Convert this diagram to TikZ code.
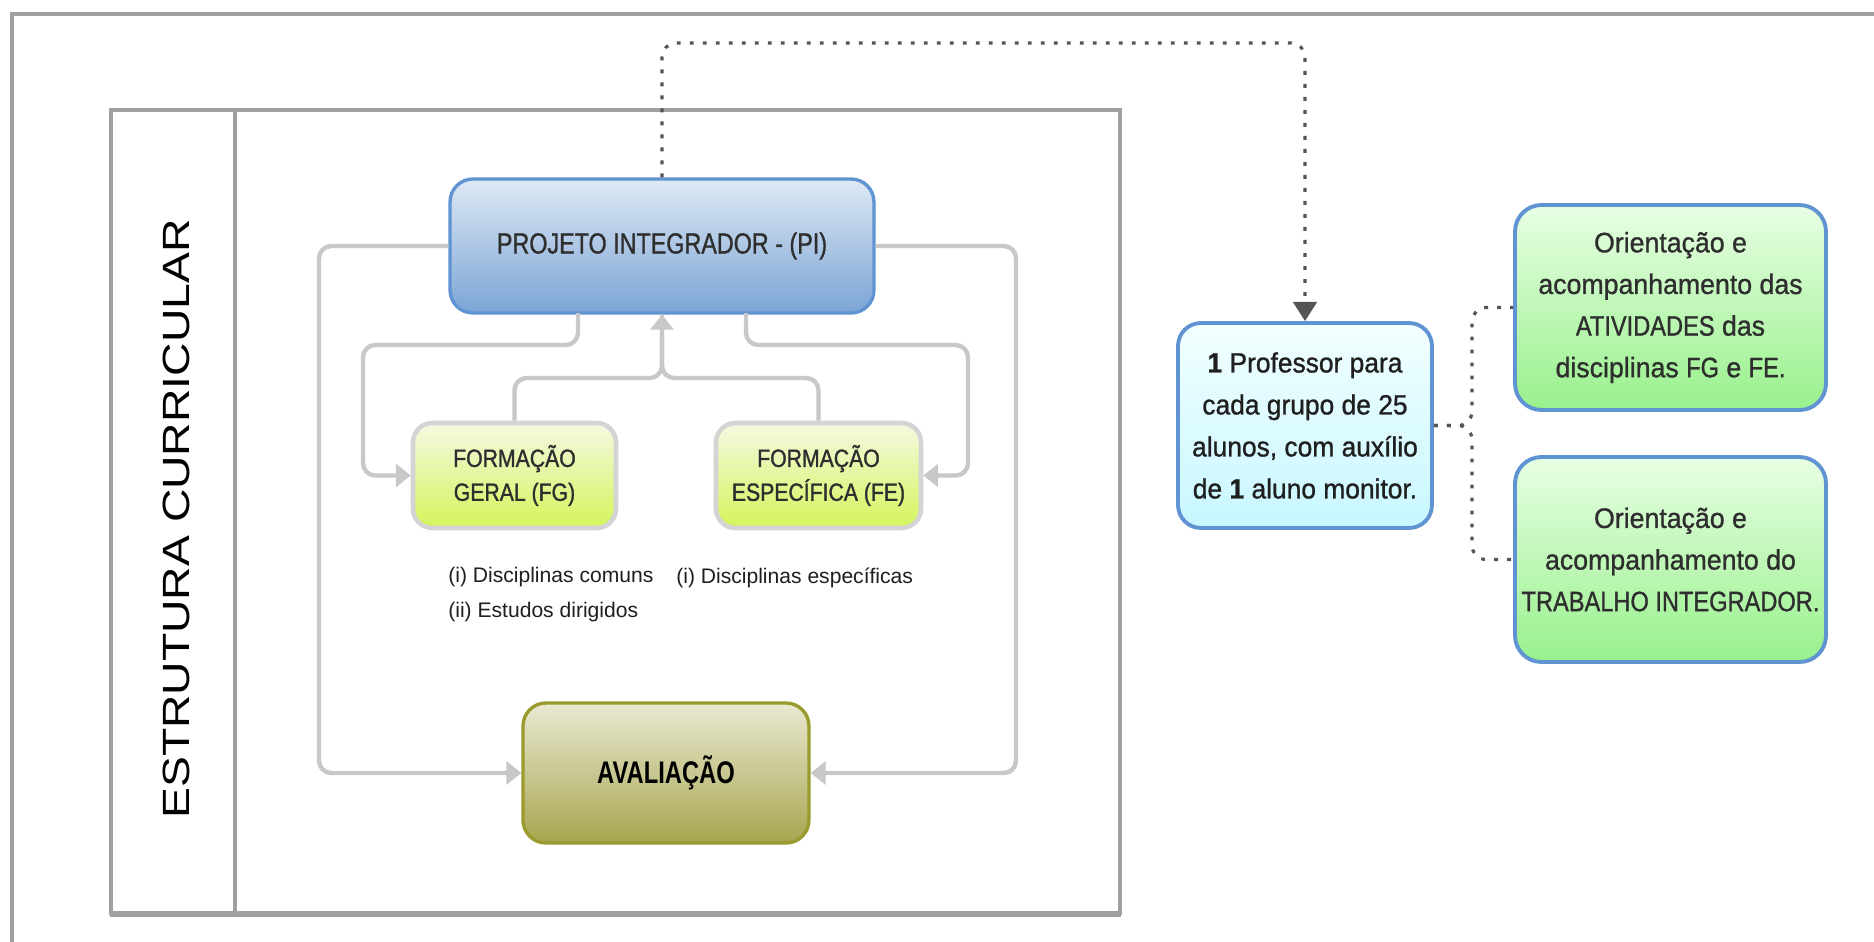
\documentclass[tikz,border=0pt]{standalone}
\usepackage{fontspec}
\setmainfont{Liberation Sans}
\newfontfamily\pifont[FakeStretch=0.8,FakeBold=1]{Liberation Sans}
\newfontfamily\narfont[FakeStretch=0.85,FakeBold=1.2]{Liberation Sans}
\newfontfamily\lowfont[FakeStretch=0.95,FakeBold=1]{Liberation Sans}
\newfontfamily\capsfont[FakeStretch=0.84,FakeBold=1]{Liberation Sans}
\newfontfamily\avfont[FakeStretch=0.76]{Liberation Sans}
\newfontfamily\widefont[FakeStretch=1.22]{Liberation Sans}
\usetikzlibrary{arrows.meta,calc}
\definecolor{framegray}{HTML}{A0A0A0}
\definecolor{lgray}{HTML}{C8C8C8}
\definecolor{dgray}{HTML}{555555}
\definecolor{piborder}{HTML}{5F93D2}
\definecolor{pitop}{HTML}{DEE8F4}
\definecolor{pibot}{HTML}{7BA5D5}
\definecolor{fgborder}{HTML}{D4D4D4}
\definecolor{fgtop}{HTML}{F4F9E2}
\definecolor{fgbot}{HTML}{D4F55A}
\definecolor{avborder}{HTML}{9A9A2E}
\definecolor{avtop}{HTML}{E9E9D2}
\definecolor{avbot}{HTML}{A8A650}
\definecolor{prtop}{HTML}{F2FFFF}
\definecolor{prbot}{HTML}{C8F7FF}
\definecolor{grtop}{HTML}{E8FFE4}
\definecolor{grbot}{HTML}{98F08C}
\definecolor{txtdark}{HTML}{2E2E2E}
\tikzset{
  framestyle/.style={draw=framegray, line width=2.4pt},
  basebox/.style={align=center, inner sep=0pt, text=txtdark},
  pibox/.style={basebox, draw=piborder, line width=1.9pt, rounded corners=13pt,
    top color=pitop, bottom color=pibot, minimum width=8.48cm, minimum height=2.68cm,
    font=\pifont\fontsize{16.6}{19}\selectfont},
  fgbox/.style={basebox, draw=fgborder, line width=2.6pt, rounded corners=11pt,
    top color=fgtop, bottom color=fgbot, minimum width=4.06cm, minimum height=2.1cm,
    font=\narfont\fontsize{14.2}{19.3}\selectfont},
  avbox/.style={basebox, draw=avborder, line width=1.9pt, rounded corners=13pt,
    top color=avtop, bottom color=avbot, minimum width=5.72cm, minimum height=2.8cm,
    text=black, font=\avfont\bfseries\fontsize{17.8}{19}\selectfont},
  prbox/.style={basebox, draw=piborder, line width=2.2pt, rounded corners=13pt,
    top color=prtop, bottom color=prbot, minimum width=5.08cm, minimum height=4.1cm,
    text=black!88, font=\lowfont\fontsize{15.8}{23.9}\selectfont},
  grbox/.style={basebox, draw=piborder, line width=2.2pt, rounded corners=15pt,
    top color=grtop, bottom color=grbot, minimum width=6.22cm, minimum height=4.1cm,
    font=\lowfont\fontsize{16}{23.7}\selectfont},
  smalllabel/.style={anchor=west, inner sep=0pt, text=black!88, font=\fontsize{12}{14}\selectfont},
  conn/.style={draw=lgray, line width=2.5pt, rounded corners=7pt},
  garrow/.style={conn, -{Triangle[length=8.5pt,width=13pt]}},
  dotconn/.style={draw=dgray, line width=1.8pt, dash pattern=on 2.2pt off 5.2pt, rounded corners=8pt},
  darrow/.style={dotconn, -{Triangle[length=11pt,width=13.5pt]}}
}
\begin{document}
\begin{tikzpicture}[x=0.02cm,y=-0.02cm]
\useasboundingbox (0,0) rectangle (1874,941);
\fill[white] (0,0) rectangle (1874,941);
% outer frame (top and left)
\draw[framestyle] (1880,14) -- (12,14) -- (12,950);
% inner frame
\draw[framestyle] (111,110) rectangle (1120,913);
\draw[framestyle, line width=3.6pt] (110,914) -- (1121,914);
\draw[framestyle] (235,110) -- (235,913);
\node[rotate=90, inner sep=0pt, font=\widefont\fontsize{21.6}{24}\selectfont] (estr) at (176.5,519) {ESTRUTURA CURRICULAR};

% nodes
\node[pibox] (pi) at (662,246) {PROJETO INTEGRADOR - (PI)};
\node[fgbox] (fg) at (514.5,475.5) {FORMAÇÃO\\GERAL (FG)};
\node[fgbox, minimum width=4.1cm] (fe) at (818.5,475.5) {FORMAÇÃO\\ESPECÍFICA (FE)};
\node[avbox] (aval) at (666,773) {AVALIAÇÃO};
\node[prbox] (prof) at (1305,425.5) {{\bfseries 1} Professor para\\cada grupo de 25\\alunos, com auxílio\\de {\bfseries 1} aluno monitor.};
\node[grbox] (g1) at (1670.5,307.5) {Orientação e\\acompanhamento das\\{\capsfont ATIVIDADES} das\\disciplinas {\capsfont FG} e {\capsfont FE.}};
\node[grbox] (g2) at (1670.5,559.5) {Orientação e\\acompanhamento do\\{\capsfont TRABALHO INTEGRADOR.}};

\node[smalllabel] (l1) at (448,577) {(i) Disciplinas comuns};
\node[smalllabel] (l2) at (448,612) {(ii) Estudos dirigidos};
\node[smalllabel] (l3) at (676,578) {(i) Disciplinas específicas};

% helper coordinates
\coordinate (lx) at (319,0);
\coordinate (rx) at (1016,0);
\coordinate (b1) at (578,313);
\coordinate (b2) at (746,313);
\coordinate (c1) at (363,345);
\coordinate (c2) at (968,345);
\coordinate (jn) at (662,378);
\coordinate (dt) at (0,43);
\coordinate (tj) at (1472,0);

% gray connectors
\draw[garrow] (pi.west) -| (lx |- aval.west) -- (aval.west);
\draw[garrow] (pi.east) -| (rx |- aval.east) -- (aval.east);
\draw[garrow] (b1) |- (c1) |- (fg.west);
\draw[garrow] (b2) |- (c2) |- (fe.east);
\draw[conn] (fe.north) |- (jn) -- (pi.south);
\draw[garrow] (fg.north) |- (jn) -- (pi.south);

% dotted connectors
\draw[darrow] (pi.north) -- (pi.north |- dt) -| (prof.north);
\draw[dotconn] (prof.east) -| (tj |- g1.west) -- (g1.west);
\draw[dotconn] (prof.east) -| (tj |- g2.west) -- (g2.west);
\end{tikzpicture}
\end{document}
